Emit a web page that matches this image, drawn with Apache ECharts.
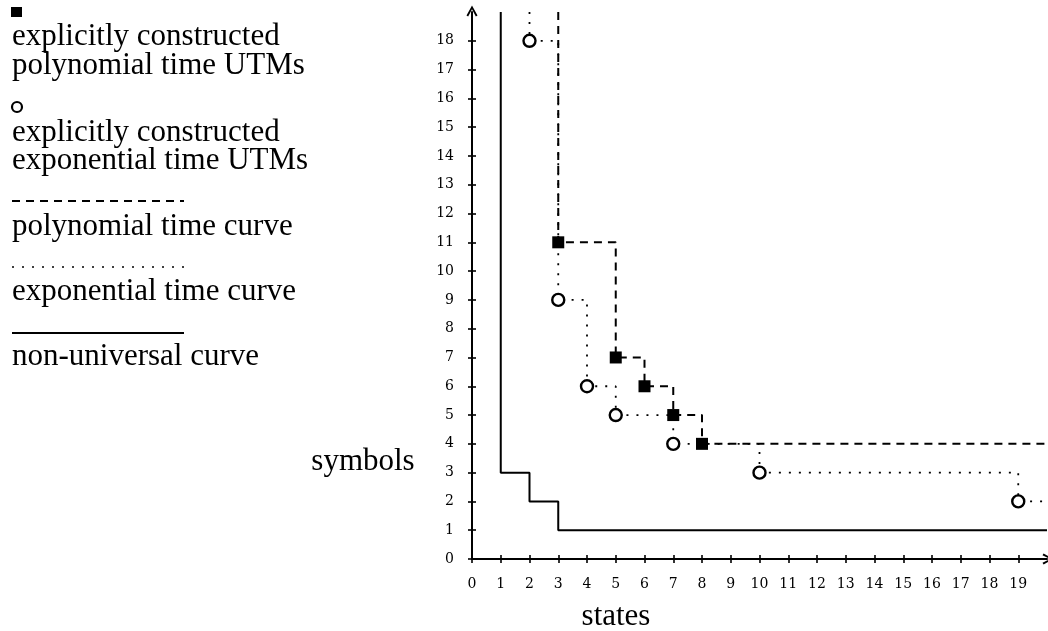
<!DOCTYPE html>
<html>
<head>
<meta charset="utf-8">
<script src="https://cdn.jsdelivr.net/npm/echarts@6/dist/echarts.min.js"></script>
<style>
  html, body { margin: 0; padding: 0; background: #fff; }
  #chart { width: 1048px; height: 631px; }
</style>
</head>
<body>
<div id="chart"></div>
<script>
// tick labels
const xTicks = [0, 1, 2, 3, 4, 5, 6, 7, 8, 9, 10, 11, 12, 13, 14, 15, 16, 17, 18, 19];
const yTicks = [0, 1, 2, 3, 4, 5, 6, 7, 8, 9, 10, 11, 12, 13, 14, 15, 16, 17, 18];

// curves (step 'end': horizontal then vertical)
const nonUniStates = [1, 1, 2, 3, 20];
const nonUniSymbols = [19, 3, 2, 1, 1];
const polyStates = [3, 3, 5, 6, 7, 8, 20];
const polySymbols = [19, 11, 7, 6, 5, 4, 4];
const expStates = [2, 2, 3, 4, 5, 7, 10, 19, 20];
const expSymbols = [19, 18, 9, 6, 5, 4, 3, 2, 2];

// explicitly constructed UTMs
const polyUtmStates = [3, 5, 6, 7, 8];
const polyUtmSymbols = [11, 7, 6, 5, 4];
const expUtmStates = [2, 3, 4, 5, 7, 10, 19];
const expUtmSymbols = [18, 9, 6, 5, 4, 3, 2];

const zip = (xs, ys) => xs.map((x, i) => [x, ys[i]]);

const serif = '"Liberation Serif", serif';
const tickFont = { fontFamily: '"DejaVu Serif", serif', fontSize: 14, color: '#000' };
const DASH = [8, 6];
const DOT = [2, 8];
// open arrow head, pointing up
const ARROW = 'path://M5,0 L10,9 L8.5,10 L5,3.5 L1.5,10 L0,9 Z';

const chart = echarts.init(document.getElementById('chart'));

function legendText(txt, y) {
    return {
        type: 'text', x: 12, y: y,
        style: { text: txt, font: '31px ' + serif, fill: '#000', verticalAlign: 'middle' }
    };
}

function tickAxis(extra) {
    return Object.assign({
        type: 'value', splitLine: { show: false }
    }, extra);
}

const option = {
    animation: false,
    grid: { left: 472, right: 1, top: 12, bottom: 72 },
    xAxis: [
        tickAxis({
            min: 0, max: 20, position: 'bottom',
            axisLine: { show: true, symbol: ['none', ARROW], symbolSize: [11, 11], symbolOffset: [0, 1], lineStyle: { color: '#000', width: 2 } },
            axisTick: { show: true, length: 4, customValues: xTicks, lineStyle: { color: '#000', width: 1.6 } },
            axisLabel: { customValues: xTicks, margin: 18, ...tickFont }
        }),
        tickAxis({
            min: 0, max: 20, position: 'bottom',
            axisLine: { show: false },
            axisTick: { show: true, inside: true, length: 4, customValues: xTicks, lineStyle: { color: '#000', width: 1.6 } },
            axisLabel: { show: false }
        })
    ],
    yAxis: [
        tickAxis({
            min: 0, max: 19, position: 'left',
            axisLine: { show: true, symbol: ['none', ARROW], symbolSize: [11, 11], symbolOffset: [0, 1], lineStyle: { color: '#000', width: 2 } },
            axisTick: { show: true, length: 4, customValues: yTicks, lineStyle: { color: '#000', width: 1.6 } },
            axisLabel: { customValues: yTicks, margin: 18, ...tickFont }
        }),
        tickAxis({
            min: 0, max: 19, position: 'left',
            axisLine: { show: false },
            axisTick: { show: true, inside: true, length: 4, customValues: yTicks, lineStyle: { color: '#000', width: 1.6 } },
            axisLabel: { show: false }
        })
    ],
    graphic: [
        { type: 'rect', shape: { x: 11, y: 7, width: 11, height: 10 }, style: { fill: '#000' } },
        legendText('explicitly constructed', 37),
        legendText('polynomial time UTMs', 66),
        { type: 'circle', shape: { cx: 17, cy: 107, r: 5 }, style: { fill: '#fff', stroke: '#000', lineWidth: 2.2 } },
        legendText('explicitly constructed', 133),
        legendText('exponential time UTMs', 161),
        { type: 'line', shape: { x1: 12, y1: 201, x2: 184, y2: 201 }, style: { stroke: '#000', lineWidth: 2, lineDash: DASH } },
        legendText('polynomial time curve', 227),
        { type: 'line', shape: { x1: 12, y1: 267, x2: 184, y2: 267 }, style: { stroke: '#000', lineWidth: 1.6, lineDash: DOT } },
        legendText('exponential time curve', 292),
        { type: 'line', shape: { x1: 12, y1: 333, x2: 184, y2: 333 }, style: { stroke: '#000', lineWidth: 2 } },
        legendText('non-universal curve', 357),
        {
            type: 'text', x: 363, y: 462,
            style: { text: 'symbols', font: '31px ' + serif, fill: '#000', align: 'center', verticalAlign: 'middle' }
        },
        {
            type: 'text', x: 616, y: 617,
            style: { text: 'states', font: '31px ' + serif, fill: '#000', align: 'center', verticalAlign: 'middle' }
        }
    ],
    series: [
        {
            name: 'non-universal curve', type: 'line', step: 'end', symbol: 'none', silent: true,
            data: zip(nonUniStates, nonUniSymbols),
            lineStyle: { color: '#000', width: 2 }
        },
        {
            name: 'polynomial time curve', type: 'line', step: 'end', symbol: 'none', silent: true,
            data: zip(polyStates, polySymbols),
            lineStyle: { color: '#000', width: 2, type: DASH }
        },
        {
            name: 'exponential time curve', type: 'line', step: 'end', symbol: 'none', silent: true,
            data: zip(expStates, expSymbols),
            lineStyle: { color: '#000', width: 1.8, type: DOT }
        },
        {
            name: 'explicitly constructed polynomial time UTMs', type: 'scatter', symbol: 'rect', symbolSize: 12, z: 5,
            data: zip(polyUtmStates, polyUtmSymbols),
            itemStyle: { color: '#000', opacity: 1 }
        },
        {
            name: 'explicitly constructed exponential time UTMs', type: 'scatter', symbol: 'circle', symbolSize: 12, z: 5,
            data: zip(expUtmStates, expUtmSymbols),
            itemStyle: { color: '#fff', borderColor: '#000', borderWidth: 2.4, opacity: 1 }
        }
    ]
};

chart.setOption(option);
</script>
</body>
</html>
